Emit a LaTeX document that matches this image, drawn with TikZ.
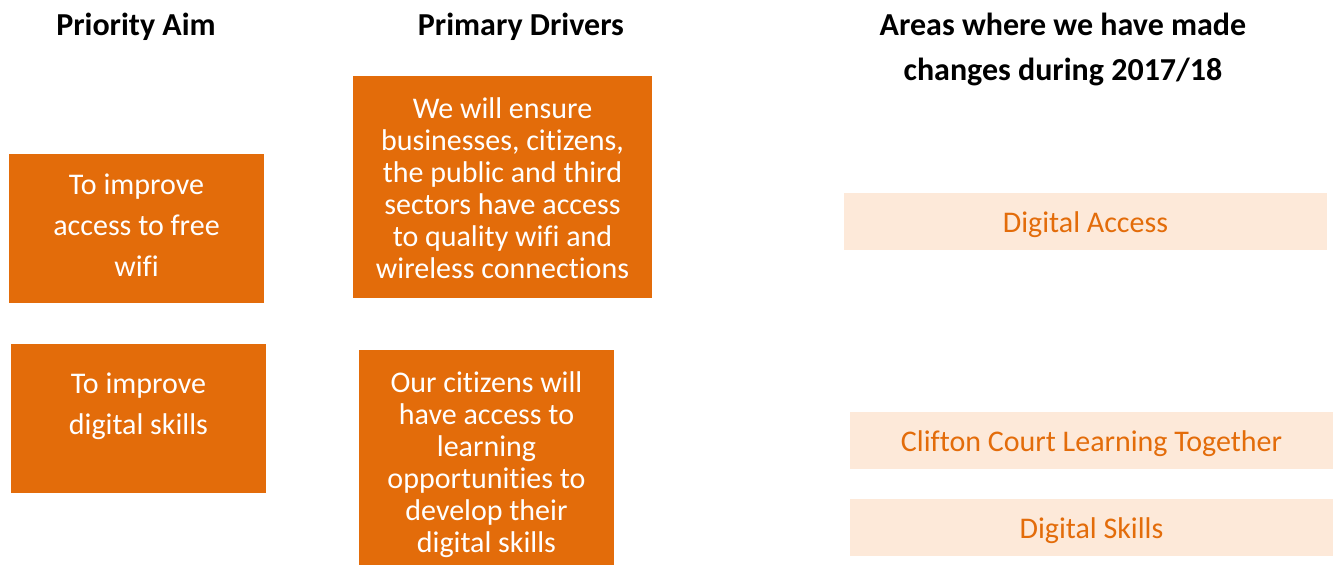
\documentclass[tikz,border=0pt]{standalone}
\usepackage{fontspec}
\setmainfont{Carlito}[Ligatures=NoCommon]
\definecolor{dorange}{HTML}{E36C0A}
\definecolor{lorange}{HTML}{FDE9D9}
\begin{document}
\begin{tikzpicture}[x=1pt,y=-1pt,
  box/.style={fill=dorange,draw=none,inner sep=0pt,anchor=north west},
  abox/.style={fill=lorange,draw=none,inner sep=0pt,anchor=north west},
  atext/.style={text=dorange,inner sep=0pt,font=\fontsize{30}{35}\selectfont},
  wtext/.style={text=white,align=center,inner sep=0pt},
  head/.style={font=\fontsize{32}{45}\selectfont\bfseries,align=center,inner sep=0pt}]
\useasboundingbox (0,0) rectangle (1333,566);
% headers
\node[head] (h1) at (136,27) {Priority Aim};
\node[head] (h2) at (521,27) {Primary Drivers};
\node[head] (h3) at (1063,49) {Areas where we have made\\changes during 2017/18};
% aims
\node[box,minimum width=255,minimum height=149] (aim1) at (9,154) {};
\node[wtext,font=\fontsize{30}{41}\selectfont] (aim1t) at (136.5,225.5) {To improve\\access to free\\wifi};
\node[box,minimum width=255,minimum height=149] (aim2) at (11,344) {};
\node[wtext,font=\fontsize{30}{41}\selectfont] (aim2t) at (138.5,406.5) {To improve\\digital skills};
% drivers
\node[box,minimum width=299,minimum height=222] (d1) at (353,76) {};
\node[wtext,font=\fontsize{30}{32}\selectfont] (d1t) at (502.5,188) {We will ensure\\businesses, citizens,\\the public and third\\sectors have access\\to quality wifi and\\wireless connections};
\node[box,minimum width=255,minimum height=215] (d2) at (359,350) {};
\node[wtext,font=\fontsize{30}{32}\selectfont] (d2t) at (486.5,465) {Our citizens will\\have access to\\learning\\opportunities to\\develop their\\digital skills};
% areas
\node[abox,minimum width=483,minimum height=57] (a1) at (844,193) {};
\node[atext] (a1t) at (1085.5,224.5) {Digital Access};
\node[abox,minimum width=483,minimum height=57] (a2) at (850,412) {};
\node[atext] (a2t) at (1091.5,443.5) {Clifton Court Learning Together};
\node[abox,minimum width=483,minimum height=57] (a3) at (850,499) {};
\node[atext] (a3t) at (1091.5,530.5) {Digital Skills};
\end{tikzpicture}
\end{document}
